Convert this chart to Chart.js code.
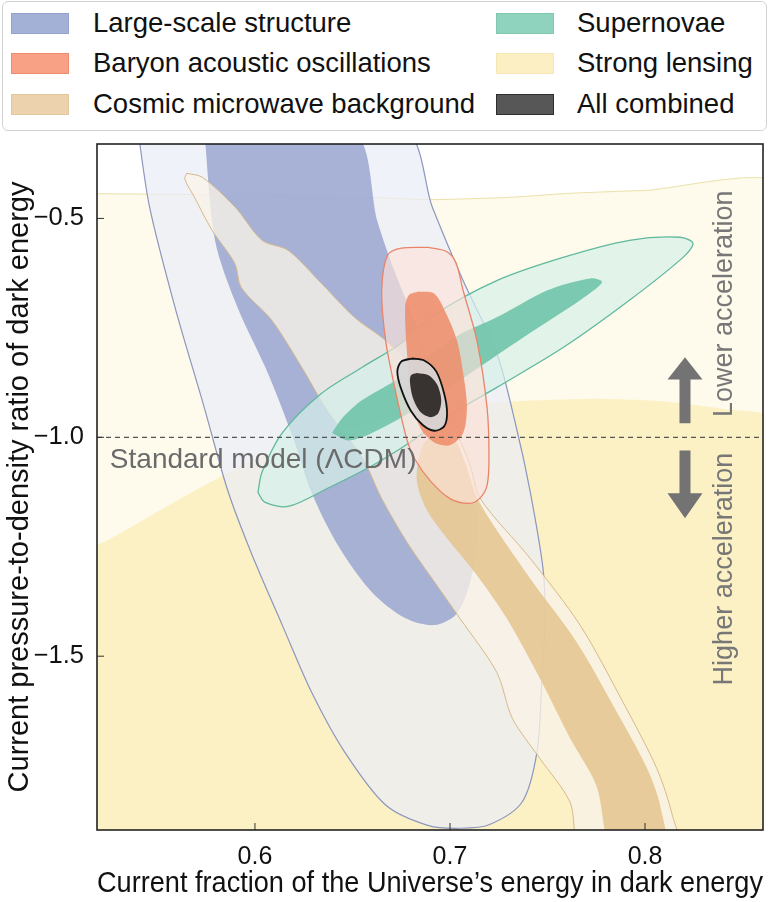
<!DOCTYPE html>
<html>
<head>
<meta charset="utf-8">
<script src="https://cdn.jsdelivr.net/npm/chart.js@4.4.1/dist/chart.umd.min.js"></script>
<style>
html, body { margin: 0; padding: 0; background: #fff; }
#wrap { position: relative; width: 777px; height: 902px; font-family: "Liberation Sans", Arial, sans-serif; }
#chart { position: absolute; left: 0; top: 0; }
#legendBox { position: absolute; left: 2px; top: 1px; width: 765px; height: 130px; box-sizing: border-box;
  border: 1px solid #d2d2d2; border-radius: 6px; background: #fff; }
.item { position: absolute; height: 30px; line-height: 30px; font-size: 27.5px; color: #111; white-space: nowrap; }
.patch { position: absolute; top: 5px; width: 56px; height: 19px; border: 1px solid; }
</style>
</head>
<body>
<div id="wrap">
  <canvas id="chart" width="777" height="902"></canvas>
  <div id="legendBox"></div>
</div>
<script>
// axis ranges and ticks
const xMin = 0.519, xMax = 0.8605;
const yMin = -1.897, yMax = -0.33;
const xTicks = [0.6, 0.7, 0.8];
const xTickLabels = ["0.6", "0.7", "0.8"];
const yTicks = [-1.5, -1.0, -0.5];
const yTickLabels = ["\u22121.5", "\u22121.0", "\u22120.5"];

const seriesNames = ["Large-scale structure", "Baryon acoustic oscillations", "Cosmic microwave background",
                     "Supernovae", "Strong lensing", "All combined"];

// contour outlines, [x, y]
const lensOuter = [[0.50,-0.443],[0.56,-0.445],[0.62,-0.448],[0.66,-0.452],[0.69,-0.457],[0.73,-0.452],
  [0.76,-0.443],[0.80,-0.436],[0.87,-0.428],[0.87,-1.95],[0.50,-1.95]];
const lensInner = [[0.50,-1.27],[0.522,-1.24],[0.55,-1.17],[0.574,-1.11],[0.60,-1.05],[0.64,-0.99],
  [0.68,-0.945],[0.71,-0.925],[0.737,-0.917],[0.775,-0.912],[0.81,-0.918],[0.84,-0.935],[0.87,-0.965],
  [0.87,-1.95],[0.50,-1.95]];
const lssOuter = [[0.540,-0.30],[0.546,-0.475],[0.559,-0.703],[0.574,-0.932],[0.586,-1.121],[0.598,-1.263],
  [0.614,-1.429],[0.629,-1.582],[0.646,-1.719],[0.667,-1.840],[0.689,-1.887],[0.705,-1.893],[0.72,-1.885],
  [0.737,-1.833],[0.7446,-1.719],[0.747,-1.566],[0.7487,-1.413],[0.7477,-1.30],[0.741,-1.121],[0.734,-0.977],
  [0.724,-0.808],[0.7067,-0.642],[0.691,-0.475],[0.676,-0.30]];
const lssInner = [[0.574,-0.30],[0.5795,-0.55],[0.591,-0.703],[0.6067,-0.854],[0.620,-1.007],[0.629,-1.126],
  [0.6426,-1.247],[0.660,-1.354],[0.677,-1.413],[0.692,-1.429],[0.704,-1.40],[0.712,-1.30],[0.714,-1.185],
  [0.709,-1.08],[0.699,-0.95],[0.686,-0.78],[0.672,-0.626],[0.663,-0.51],[0.650,-0.30]];
const cmbOuter = [[0.565,-0.397],[0.573,-0.406],[0.590,-0.475],[0.6036,-0.55],[0.617,-0.573],[0.634,-0.648],
  [0.651,-0.726],[0.667,-0.779],[0.685,-0.86],[0.700,-0.96],[0.710,-1.06],[0.7154,-1.139],[0.741,-1.276],
  [0.7667,-1.429],[0.7887,-1.605],[0.806,-1.756],[0.814,-1.863],[0.817,-1.95],[0.768,-1.95],[0.7615,-1.833],
  [0.746,-1.733],[0.732,-1.642],[0.724,-1.537],[0.705,-1.413],[0.692,-1.33],[0.678,-1.24],[0.665,-1.14],
  [0.655,-1.046],[0.637,-0.938],[0.624,-0.84],[0.6087,-0.733],[0.593,-0.658],[0.5897,-0.603],[0.578,-0.527],
  [0.569,-0.452],[0.564,-0.41]];
const cmbInner = [[0.695,-0.98],[0.703,-1.01],[0.708,-1.06],[0.715,-1.148],[0.741,-1.322],[0.765,-1.468],
  [0.7856,-1.628],[0.801,-1.756],[0.8077,-1.84],[0.810,-1.95],[0.784,-1.95],[0.775,-1.795],[0.7615,-1.687],
  [0.746,-1.55],[0.729,-1.413],[0.7138,-1.315],[0.6897,-1.178],[0.683,-1.10],[0.686,-1.02]];
const snOuter = [[0.6015,-1.126],[0.6036,-1.08],[0.614,-0.99],[0.634,-0.90],[0.655,-0.84],[0.675,-0.785],
  [0.692,-0.72],[0.724,-0.642],[0.758,-0.589],[0.792,-0.55],[0.818,-0.543],[0.8246,-0.557],[0.8195,-0.589],
  [0.792,-0.687],[0.758,-0.795],[0.724,-0.886],[0.698,-0.954],[0.68,-1.01],[0.66,-1.065],[0.637,-1.117],
  [0.617,-1.158],[0.605,-1.148]];
const snInner = [[0.6395,-0.99],[0.645,-0.955],[0.655,-0.915],[0.672,-0.87],[0.69,-0.81],[0.705,-0.765],
  [0.724,-0.726],[0.75,-0.664],[0.772,-0.637],[0.778,-0.646],[0.7667,-0.687],[0.741,-0.762],[0.715,-0.84],
  [0.695,-0.90],[0.675,-0.955],[0.66,-0.99],[0.648,-1.007]];
const baoOuter = [[0.689,-0.566],[0.698,-0.575],[0.703,-0.60],[0.7067,-0.664],[0.7138,-0.779],[0.719,-0.932],
  [0.72,-1.046],[0.719,-1.11],[0.7154,-1.139],[0.710,-1.151],[0.70,-1.14],[0.69,-1.10],[0.682,-1.05],
  [0.678,-1.007],[0.672,-0.893],[0.667,-0.779],[0.665,-0.664],[0.668,-0.584],[0.675,-0.568]];
const baoInner = [[0.684,-0.667],[0.692,-0.672],[0.698,-0.717],[0.7036,-0.779],[0.707,-0.86],[0.7087,-0.932],
  [0.7067,-0.991],[0.70,-1.018],[0.692,-1.012],[0.685,-0.98],[0.680,-0.91],[0.678,-0.81],[0.677,-0.703],
  [0.679,-0.675]];
const allOuter = [[0.6805,-0.82],[0.687,-0.825],[0.693,-0.85],[0.697,-0.90],[0.6985,-0.945],[0.697,-0.975],
  [0.692,-0.985],[0.686,-0.972],[0.680,-0.94],[0.675,-0.89],[0.673,-0.85],[0.675,-0.827]];
const allInner = [[0.683,-0.853],[0.689,-0.858],[0.6935,-0.88],[0.6955,-0.915],[0.694,-0.945],[0.690,-0.954],
  [0.685,-0.943],[0.681,-0.91],[0.6795,-0.875],[0.680,-0.858]];

const standardW = -1.0;

const FONT = '"Liberation Sans", Arial, sans-serif';
const legendFill = ["#a4b1d6", "#f9a184", "#ecd3ae", "#8fd2bd", "#fcefc4", "#575757"];
const legendEdge = ["#93a1cc", "#f08d70", "#e4c79e", "#7fc7b0", "#f5e6b4", "#2e2e2e"];

function contour(label, pts, fill, edge, width, order, tension) {
  const closed = pts.concat([pts[0]]);
  return {
    label: label,
    data: closed.map(p => ({ x: p[0], y: p[1] })),
    showLine: true,
    fill: 'shape',
    backgroundColor: fill,
    borderColor: edge || 'rgba(0,0,0,0)',
    borderWidth: width || 0,
    pointRadius: 0,
    tension: tension === undefined ? 0.3 : tension,
    capBezierPoints: false,
    order: order
  };
}

const datasets = [
  {
    label: "Standard model",
    data: [{ x: xMin, y: standardW }, { x: xMax, y: standardW }],
    showLine: true, fill: false, borderColor: "#555", borderWidth: 1.2, borderDash: [5, 4],
    pointRadius: 0, order: 0
  },
  contour(seriesNames[5], allInner, "rgba(42,36,36,0.92)", null, 0, 1),
  contour(seriesNames[5], allOuter, "rgba(214,214,214,0.92)", "#111", 1.8, 2),
  contour(seriesNames[1], baoInner, "rgba(239,140,104,0.85)", null, 0, 3),
  contour(seriesNames[1], baoOuter, "rgba(252,226,216,0.65)", "#e98469", 1.3, 4),
  contour(seriesNames[3], snInner, "rgba(112,196,170,0.9)", null, 0, 5),
  contour(seriesNames[3], snOuter, "rgba(214,241,233,0.7)", "#5fb99b", 1.3, 6),
  contour(seriesNames[2], cmbInner, "rgba(228,196,142,0.85)", null, 0, 7),
  contour(seriesNames[2], cmbOuter, "rgba(250,242,232,0.78)", "#d6b889", 1, 8),
  contour(seriesNames[0], lssInner, "rgba(150,164,206,0.82)", null, 0, 9),
  contour(seriesNames[0], lssOuter, "rgba(234,237,247,0.72)", "#8c96be", 1.2, 10),
  contour(seriesNames[4], lensInner, "rgba(252,236,175,0.62)", null, 0, 11, 0.2),
  contour(seriesNames[4], lensOuter, "rgba(252,238,185,0.28)", "rgba(232,222,160,0.9)", 1, 12, 0.2)
];

// frame, inward ticks, arrows and in-plot text
const decorations = {
  id: 'decorations',
  afterDatasetsDraw(chart) {
    const { ctx, chartArea: a, scales: { x, y } } = chart;
    ctx.save();
    // text
    ctx.fillStyle = "#6b6b6b";
    ctx.font = "28px " + FONT;
    ctx.textAlign = "left";
    ctx.textBaseline = "alphabetic";
    ctx.fillText("Standard model (\u039BCDM)", x.getPixelForValue(0.5256), y.getPixelForValue(-1.0708));

    ctx.fillStyle = "#777";
    ctx.font = "27px " + FONT;
    const tx = x.getPixelForValue(0.8445);
    [["Lower acceleration", -0.695], ["Higher acceleration", -1.301]].forEach(([t, v]) => {
      ctx.save();
      ctx.translate(tx, y.getPixelForValue(v));
      ctx.rotate(-Math.PI / 2);
      ctx.textAlign = "center";
      ctx.fillText(t, 0, 0);
      ctx.restore();
    });

    // arrows
    ctx.fillStyle = "#737373";
    const ax = x.getPixelForValue(0.8205);
    const arrow = (tip, base, tail) => {
      const pt = y.getPixelForValue(tip), pb = y.getPixelForValue(base), pe = y.getPixelForValue(tail);
      ctx.beginPath();
      ctx.moveTo(ax, pt);
      ctx.lineTo(ax + 17.5, pb);
      ctx.lineTo(ax + 5.5, pb);
      ctx.lineTo(ax + 5.5, pe);
      ctx.lineTo(ax - 5.5, pe);
      ctx.lineTo(ax - 5.5, pb);
      ctx.lineTo(ax - 17.5, pb);
      ctx.closePath();
      ctx.fill();
    };
    arrow(-0.817, -0.868, -0.968);
    arrow(-1.185, -1.128, -1.030);

    // inward ticks
    ctx.strokeStyle = "#333";
    ctx.lineWidth = 1;
    ctx.beginPath();
    xTicks.forEach(v => {
      const px = x.getPixelForValue(v);
      ctx.moveTo(px, a.bottom);
      ctx.lineTo(px, a.bottom - 7);
    });
    yTicks.forEach(v => {
      const py = y.getPixelForValue(v);
      ctx.moveTo(a.left, py);
      ctx.lineTo(a.left + 7, py);
    });
    ctx.stroke();

    // frame
    ctx.strokeStyle = "#222";
    ctx.lineWidth = 1.6;
    ctx.strokeRect(a.left, a.top, a.right - a.left, a.bottom - a.top);
    ctx.restore();
  }
};

const chart = new Chart(document.getElementById("chart"), {
  type: "scatter",
  data: { datasets: datasets },
  options: {
    responsive: false,
    animation: false,
    events: [],
    layout: { padding: { top: 144, right: 14, bottom: 0, left: 0 } },
    plugins: { legend: { display: false }, tooltip: { enabled: false } },
    scales: {
      x: {
        type: "linear", min: xMin, max: xMax,
        afterBuildTicks: s => { s.ticks = xTicks.map(v => ({ value: v })); },
        afterFit: s => { s.height = 72; },
        grid: { display: false }, border: { display: false },
        ticks: {
          autoSkip: false, maxRotation: 0, padding: 4, color: "#111",
          font: { family: FONT, size: 25 },
          callback: v => { const i = xTicks.indexOf(v); return i >= 0 ? xTickLabels[i] : ""; }
        },
        title: {
          display: true, text: "Current fraction of the Universe\u2019s energy in dark energy",
          color: "#111", font: { family: FONT, size: 29 }, padding: { top: 0, bottom: 1 }
        }
      },
      y: {
        type: "linear", min: yMin, max: yMax,
        afterBuildTicks: s => { s.ticks = yTicks.map(v => ({ value: v })); },
        afterFit: s => { s.width = 97; },
        grid: { display: false }, border: { display: false },
        ticks: {
          autoSkip: false, padding: 5, color: "#111",
          font: { family: FONT, size: 25.5 },
          callback: v => { const i = yTicks.indexOf(v); return i >= 0 ? yTickLabels[i] : ""; }
        },
        title: {
          display: true, text: "Current pressure-to-density ratio of dark energy",
          color: "#111", font: { family: FONT, size: 29 }, padding: { top: 3, bottom: 0 }
        }
      }
    }
  },
  plugins: [decorations]
});

// legend, two columns of three
const wrap = document.getElementById("wrap");
const legendCols = [[0, 1, 2], [3, 4, 5]];
const colLeft = [11, 496], textLeft = [82, 81], rowMid = [23, 63, 104];
legendCols.forEach((col, c) => {
  col.forEach((k, r) => {
    const item = document.createElement("div");
    item.className = "item";
    item.style.left = colLeft[c] + "px";
    item.style.top = (rowMid[r] - 15) + "px";
    const patch = document.createElement("div");
    patch.className = "patch";
    patch.style.background = legendFill[k];
    patch.style.borderColor = legendEdge[k];
    const label = document.createElement("span");
    label.style.position = "absolute";
    label.style.left = textLeft[c] + "px";
    label.textContent = seriesNames[k];
    item.appendChild(patch);
    item.appendChild(label);
    wrap.appendChild(item);
  });
});
</script>
</body>
</html>
